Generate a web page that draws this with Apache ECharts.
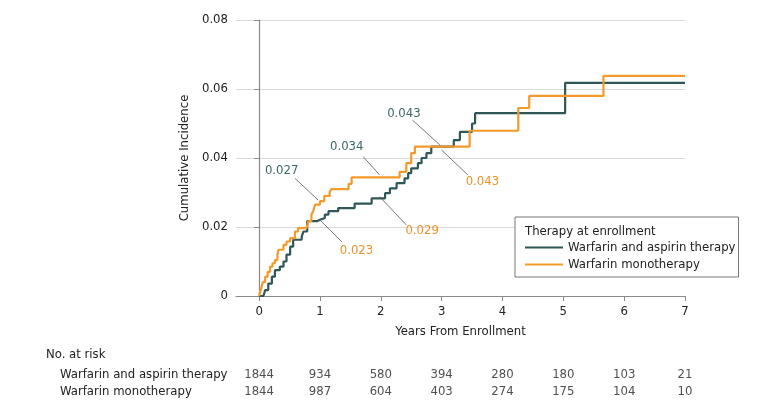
<!DOCTYPE html>
<html>
<head>
<meta charset="utf-8">
<script src="https://cdn.jsdelivr.net/npm/echarts@6/dist/echarts.min.js"></script>
<style>
  html, body { margin: 0; padding: 0; background: #fff; }
  #chart { width: 780px; height: 411px; }
</style>
</head>
<body>
<div id="chart"></div>
<script>
// cumulative incidence step curves: [years, incidence]
const aspirinCurve = [
    [0, 0], [0.07, 0], [0.1, 0.0017], [0.15, 0.0036], [0.21, 0.0056], [0.26, 0.0075],
    [0.34, 0.0085], [0.4, 0.01], [0.45, 0.012], [0.51, 0.0143], [0.56, 0.0163],
    [0.7, 0.0173], [0.73, 0.0187], [0.79, 0.0217], [0.95, 0.0221], [1.0, 0.0226],
    [1.08, 0.0236], [1.14, 0.0246], [1.3, 0.0255], [1.57, 0.0268], [1.85, 0.0283],
    [2.07, 0.0298], [2.15, 0.0312], [2.26, 0.0327], [2.39, 0.0341], [2.45, 0.0356],
    [2.5, 0.037], [2.61, 0.0385], [2.67, 0.04], [2.75, 0.0414], [2.83, 0.0433],
    [3.2, 0.0452], [3.3, 0.0476], [3.5, 0.05], [3.55, 0.053], [5.03, 0.0618], [7, 0.0618]
];
const monoCurve = [
    [0, 0], [0.03, 0.002], [0.06, 0.004], [0.1, 0.0056], [0.14, 0.007], [0.18, 0.0085],
    [0.22, 0.0095], [0.26, 0.0104], [0.3, 0.012], [0.32, 0.0134], [0.4, 0.0148],
    [0.45, 0.0158], [0.51, 0.0168], [0.59, 0.0187], [0.64, 0.0197], [0.78, 0.0202],
    [0.81, 0.0217], [0.86, 0.0236], [0.89, 0.0246], [0.92, 0.0265], [1.0, 0.0275],
    [1.07, 0.029], [1.16, 0.0302], [1.19, 0.031], [1.47, 0.0325], [1.52, 0.0344],
    [2.31, 0.036], [2.42, 0.0385], [2.5, 0.0414], [2.56, 0.0433], [3.46, 0.0479],
    [4.26, 0.0545], [4.44, 0.058], [5.66, 0.0638], [7, 0.0638]
];

// callouts: [from, to, text pos, text]
const aspirinNotes = [
    [[0.59, 0.0341], [0.97, 0.0278], [0.37, 0.0363], '0.027'],
    [[1.71, 0.0404], [1.98, 0.0351], [1.44, 0.0433], '0.034'],
    [[2.52, 0.051], [2.97, 0.0438], [2.38, 0.053], '0.043']
];
const monoNotes = [
    [[1.0, 0.022], [1.36, 0.0157], [1.6, 0.0131], '0.023'],
    [[1.98, 0.0288], [2.42, 0.0206], [2.68, 0.0189], '0.029'],
    [[3.0, 0.0423], [3.43, 0.0351], [3.67, 0.0331], '0.043']
];

const years = [0, 1, 2, 3, 4, 5, 6, 7];
const groups = ['Warfarin and aspirin therapy', 'Warfarin monotherapy'];
const atRiskAspirin = [1844, 934, 580, 394, 280, 180, 103, 21];
const atRiskMono = [1844, 987, 604, 403, 274, 175, 104, 10];

const FONT = "'Liberation Sans Narrow', 'DejaVu Sans Condensed', sans-serif";
const FS = 13;
const TEAL = '#2f5757';
const ORANGE = '#f39a2b';

function noteLines(notes) {
    return notes.map(n => [{coord: n[0]}, {coord: n[1]}]);
}
function notePoints(notes) {
    return notes.map(n => ({coord: n[2], value: n[3]}));
}

function curveSeries(name, data, color, notes, textColor) {
    return {
        name: name,
        type: 'line',
        step: 'end',
        data: data,
        showSymbol: false,
        symbol: 'none',
        lineStyle: {color: color, width: 2.2},
        itemStyle: {color: color},
        silent: true,
        markLine: {
            silent: true,
            symbol: 'none',
            label: {show: false},
            lineStyle: {color: '#555', width: 0.8, type: 'solid'},
            data: noteLines(notes)
        },
        markPoint: {
            silent: true,
            symbol: 'circle',
            symbolSize: 0,
            label: {
                show: true,
                formatter: p => p.value,
                color: textColor,
                fontFamily: FONT,
                fontSize: FS,
                position: 'inside'
            },
            data: notePoints(notes)
        }
    };
}

const riskRows = [];
years.forEach((y, i) => {
    riskRows.push([y, groups[0], atRiskAspirin[i]]);
    riskRows.push([y, groups[1], atRiskMono[i]]);
});

const option = {
    animation: false,
    textStyle: {fontFamily: FONT},
    grid: [
        {left: 236, right: 95, top: 20, bottom: 115},
        {left: 236, right: 95, top: 366, height: 34}
    ],
    xAxis: [{
        type: 'value',
        gridIndex: 0,
        min: -0.38,
        max: 7,
        interval: 1,
        name: 'Years From Enrollment',
        nameLocation: 'middle',
        nameGap: 29,
        nameTextStyle: {color: '#222', fontSize: FS, fontFamily: FONT},
        axisLine: {show: true, onZero: false, lineStyle: {color: '#8a8a8a', width: 1.2}},
        axisTick: {show: true, length: 5, lineStyle: {color: '#8a8a8a'},
            customValues: years},
        axisLabel: {color: '#222', fontSize: FS, fontFamily: FONT, margin: 9,
            customValues: years},
        splitLine: {show: false}
    }, {
        type: 'value',
        gridIndex: 1,
        min: -0.38,
        max: 7,
        show: false
    }],
    yAxis: [{
        type: 'value',
        gridIndex: 0,
        min: 0,
        max: 0.08,
        interval: 0.02,
        name: 'Cumulative Incidence',
        nameLocation: 'middle',
        nameGap: 40,
        nameTextStyle: {color: '#222', fontSize: FS, fontFamily: FONT},
        axisLine: {show: true, lineStyle: {color: '#8a8a8a', width: 1.2}},
        axisTick: {show: true, length: 5, lineStyle: {color: '#8a8a8a'}},
        axisLabel: {color: '#222', fontSize: FS, fontFamily: FONT, margin: 8,
            formatter: v => v === 0 ? '0' : v.toFixed(2)},
        splitLine: {lineStyle: {color: '#d9d9d9', width: 1}}
    }, {
        type: 'category',
        gridIndex: 1,
        data: groups,
        inverse: true,
        axisLine: {show: false},
        axisTick: {show: false},
        axisLabel: {color: '#222', fontSize: FS, fontFamily: FONT, align: 'left',
            margin: 176, interval: 0, hideOverlap: false}
    }],
    legend: {
        left: 515,
        top: 217,
        orient: 'vertical',
        padding: [24, 3, 6, 10],
        itemGap: 4,
        itemWidth: 38,
        itemHeight: 2,
        icon: 'rect',
        borderColor: '#777',
        borderWidth: 1,
        backgroundColor: '#fff',
        textStyle: {color: '#222', fontSize: FS, fontFamily: FONT},
        data: groups
    },
    graphic: [
        {type: 'text', left: 525, top: 225, z: 200,
            style: {text: 'Therapy at enrollment', fill: '#222', font: FS + 'px ' + FONT}},
        {type: 'text', left: 46, top: 348, z: 200,
            style: {text: 'No. at risk', fill: '#222', font: FS + 'px ' + FONT}}
    ],
    series: [
        curveSeries(groups[0], aspirinCurve, TEAL, aspirinNotes, '#3d6767'),
        curveSeries(groups[1], monoCurve, ORANGE, monoNotes, '#f0922a'),
        {
            type: 'scatter',
            xAxisIndex: 1,
            yAxisIndex: 1,
            symbolSize: 0,
            silent: true,
            data: riskRows,
            label: {
                show: true,
                position: 'inside',
                formatter: p => p.value[2],
                color: '#222',
                fontSize: FS,
                fontFamily: FONT
            }
        }
    ]
};

const myChart = echarts.init(document.getElementById('chart'));
myChart.setOption(option);
</script>
</body>
</html>
